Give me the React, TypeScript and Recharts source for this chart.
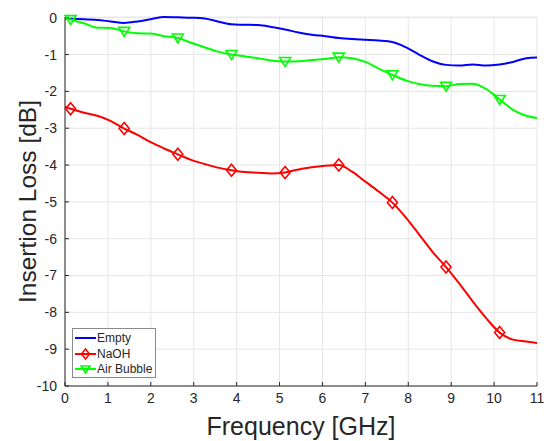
import React from 'react'
import { LineChart, Line, XAxis, YAxis, CartesianGrid, Legend } from 'recharts'

// frequency grid (GHz), markers every 4th sample starting at index 1
const freqs = [0, 0.13, 0.44, 0.75, 1.06, 1.38, 1.69, 2.0, 2.31, 2.63, 2.94, 3.25, 3.56, 3.88, 4.19, 4.5, 4.81, 5.13, 5.44, 5.75, 6.06, 6.38, 6.69, 7.0, 7.31, 7.63, 7.94, 8.25, 8.56, 8.88, 9.19, 9.5, 9.81, 10.13, 10.44, 10.75, 11.0]
const empty = [-0.02, -0.03, -0.04, -0.06, -0.1, -0.14, -0.1, -0.04, 0.02, 0.01, 0.0, -0.02, -0.1, -0.18, -0.19, -0.2, -0.25, -0.32, -0.4, -0.46, -0.5, -0.55, -0.58, -0.6, -0.62, -0.66, -0.8, -1.0, -1.18, -1.28, -1.3, -1.27, -1.3, -1.27, -1.2, -1.1, -1.08]
const naoh = [-2.42, -2.47, -2.58, -2.66, -2.8, -3.01, -3.18, -3.38, -3.55, -3.71, -3.86, -3.97, -4.07, -4.14, -4.19, -4.21, -4.23, -4.2, -4.12, -4.06, -4.02, -4.0, -4.18, -4.45, -4.72, -5.02, -5.42, -5.88, -6.35, -6.77, -7.22, -7.7, -8.15, -8.55, -8.74, -8.79, -8.83]
const airBubble = [-0.01, -0.05, -0.15, -0.27, -0.28, -0.37, -0.42, -0.43, -0.5, -0.55, -0.68, -0.8, -0.92, -1.0, -1.05, -1.1, -1.16, -1.19, -1.18, -1.15, -1.12, -1.07, -1.1, -1.2, -1.38, -1.55, -1.7, -1.8, -1.85, -1.86, -1.8, -1.79, -1.93, -2.22, -2.5, -2.66, -2.72]
const xTicks = [0, 1, 2, 3, 4, 5, 6, 7, 8, 9, 10, 11]
const yTicks = [0, -1, -2, -3, -4, -5, -6, -7, -8, -9, -10]

const data = freqs.map((f, i) => ({ f, empty: empty[i], naoh: naoh[i], air: airBubble[i] }))

const isMarker = (i: number) => i % 4 === 1

const DiamondDot = (props: any) => {
  const { cx, cy, index } = props
  if (!isMarker(index)) return <g key={'d' + index} />
  return <path key={'d' + index} d={`M${cx},${cy - 6} L${cx + 5},${cy} L${cx},${cy + 6} L${cx - 5},${cy} Z`} fill="none" stroke="#ff0000" strokeWidth={1.6} />
}

const TriDot = (props: any) => {
  const { cx, cy, index } = props
  if (!isMarker(index)) return <g key={'t' + index} />
  return <path key={'t' + index} d={`M${cx - 5.5},${cy - 4} L${cx + 5.5},${cy - 4} L${cx},${cy + 5} Z`} fill="none" stroke="#00ff00" strokeWidth={1.6} />
}

const font = 'Arial, "Liberation Sans", Helvetica, sans-serif'

function LegendBox() {
  const rows = [
    { name: 'Empty', color: '#0000ff', mark: 'none' },
    { name: 'NaOH', color: '#ff0000', mark: 'diamond' },
    { name: 'Air Bubble', color: '#00ff00', mark: 'tri' },
  ]
  return (
    <div style={{ border: '1px solid #8a8a8a', background: '#fff', width: 84, height: 50, padding: '1px 0', boxSizing: 'border-box' }}>
      {rows.map((r) => (
        <div key={r.name} style={{ display: 'flex', alignItems: 'center', height: 15.7, whiteSpace: 'nowrap', fontFamily: font, fontSize: 12, lineHeight: '14px', color: '#262626' }}>
          <svg width={23} height={14} style={{ marginLeft: 1, flexShrink: 0 }}>
            <line x1={1} y1={7} x2={22} y2={7} stroke={r.color} strokeWidth={2} />
            {r.mark === 'diamond' && <path d="M11.5,2 L15.5,7 L11.5,12 L7.5,7 Z" fill="none" stroke={r.color} strokeWidth={1.5} />}
            {r.mark === 'tri' && <path d="M7,4 L16,4 L11.5,11 Z" fill="none" stroke={r.color} strokeWidth={1.5} />}
          </svg>
          <span>{r.name}</span>
        </div>
      ))}
    </div>
  )
}

export default function App() {
  return (
    <div style={{ position: 'absolute', left: 0, top: 0, width: 554, height: 441, background: '#fff' }}>
      <LineChart width={554} height={441} data={data} margin={{ top: 17, right: 17, left: 0, bottom: 0 }}>
        <CartesianGrid stroke="#e6e6e6" strokeWidth={1} />
        <XAxis
          dataKey="f"
          type="number"
          domain={[0, 11]}
          ticks={xTicks}
          height={55}
          stroke="#262626"
          tickSize={-4}
          tickMargin={11}
          tick={{ fill: '#262626', fontSize: 14, fontFamily: font }}
          label={{ value: 'Frequency [GHz]', position: 'insideBottom', offset: 6, style: { fontSize: 25, fontFamily: font, fill: '#262626' } }}
        />
        <YAxis
          type="number"
          domain={[-10, 0]}
          ticks={yTicks}
          width={65}
          stroke="#262626"
          tickSize={-4}
          tickMargin={12}
          tick={{ fill: '#262626', fontSize: 14, fontFamily: font }}
          label={{ value: 'Insertion Loss [dB]', angle: -90, position: 'insideLeft', offset: 0, dx: 27, style: { fontSize: 24.5, fontFamily: font, fill: '#262626', textAnchor: 'middle' } }}
        />
        <Legend
          layout="vertical"
          align="center"
          verticalAlign="middle"
          content={() => <LegendBox />}
          wrapperStyle={{ position: 'absolute', left: 72, top: 328, width: 'auto', height: 'auto', bottom: 'auto', right: 'auto', margin: 0 }}
        />
        <Line dataKey="empty" type="monotone" stroke="#0000ff" strokeWidth={2} dot={false} isAnimationActive={false} />
        <Line dataKey="naoh" type="monotone" stroke="#ff0000" strokeWidth={2} dot={DiamondDot} isAnimationActive={false} />
        <Line dataKey="air" type="monotone" stroke="#00ff00" strokeWidth={2} dot={TriDot} isAnimationActive={false} />
      </LineChart>
    </div>
  )
}
